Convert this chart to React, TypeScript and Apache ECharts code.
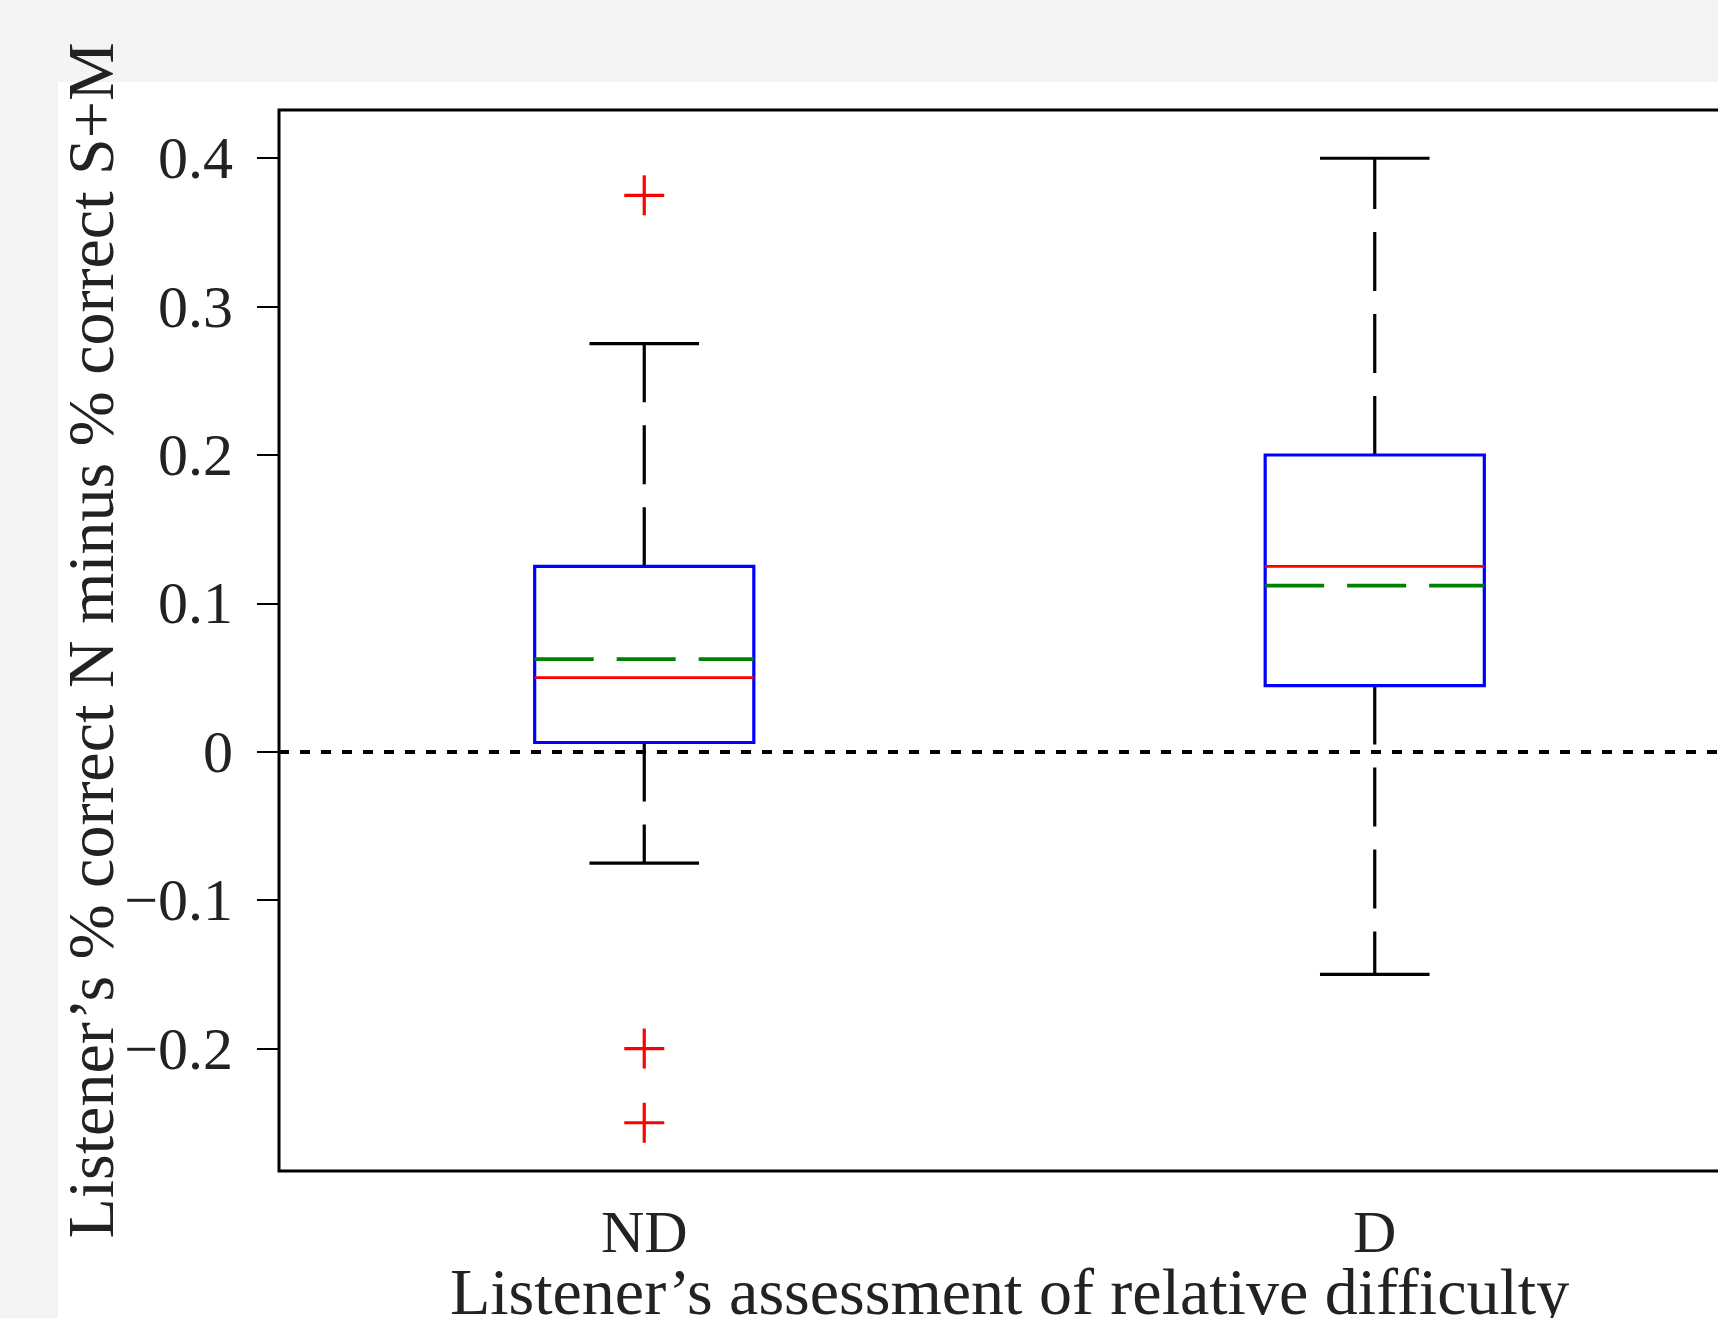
import React, { useEffect, useRef } from "react";
import * as echarts from "echarts";

const categories = ["ND", "D"];
const whiskerLow = [-0.075, -0.15];
const quartile1 = [0.00625, 0.0446];
const median = [0.05, 0.125];
const quartile3 = [0.125, 0.2];
const whiskerHigh = [0.275, 0.4];
const mean = [0.0625, 0.112];
const outlierCategory = [0, 0, 0];
const outlierValue = [0.375, -0.2, -0.25];
const yTicks = [-0.2, -0.1, 0, 0.1, 0.2, 0.3, 0.4];
const yMin = -0.2825;
const yMax = 0.4325;

const FONT = "'Liberation Serif', 'Times New Roman', serif";
const TEXT = "#222222";

export default function App() {
  const ref = useRef<HTMLDivElement>(null);
  useEffect(() => {
    if (!ref.current) return;
    const chart = echarts.init(ref.current, null, { renderer: "svg" });
    const boxData = categories.map((_, i) => [
      i + 1,
      whiskerLow[i],
      quartile1[i],
      median[i],
      quartile3[i],
      whiskerHigh[i],
      mean[i],
    ]);
    const outlierData = outlierValue.map((v, i) => [outlierCategory[i] + 1, v]);
    const dash = [59, 23];
    const LW = 3.2;

    const option: any = {
      animation: false,
      backgroundColor: "#f4f4f4",
      graphic: [
        {
          type: "rect",
          z: -100,
          silent: true,
          shape: { x: 58, y: 82, width: 1700, height: 1300 },
          style: { fill: "#ffffff" },
        },
      ],
      grid: {
        left: 279,
        top: 110,
        width: 1461,
        height: 1061,
        show: true,
        borderColor: "#000",
        borderWidth: 3,
        backgroundColor: "transparent",
        containLabel: false,
        outerBoundsMode: "none",
      },
      xAxis: {
        type: "value",
        min: 0.5,
        max: 2.5,
        axisLine: { show: false },
        axisTick: { show: false },
        splitLine: { show: false },
        axisLabel: {
          customValues: categories.map((_, i) => i + 1),
          formatter: (v: number) => categories[Math.round(v) - 1] ?? "",
          margin: 39,
          lineHeight: 44,
          fontFamily: FONT,
          fontSize: 60,
          color: TEXT,
        },
        name: "Listener\u2019s assessment of relative difficulty",
        nameLocation: "middle",
        nameGap: 95,
        nameMoveOverlap: false,
        nameTextStyle: { fontFamily: FONT, fontSize: 66, lineHeight: 50, color: TEXT },
      },
      yAxis: {
        type: "value",
        min: yMin,
        max: yMax,
        axisLine: { show: false },
        splitLine: { show: false },
        axisTick: {
          show: true,
          inside: false,
          length: 22,
          customValues: yTicks,
          lineStyle: { color: "#000", width: 2 },
        },
        axisLabel: {
          customValues: yTicks,
          formatter: (v: number) => {
            if (Math.abs(v) < 1e-9) return "0";
            const s = Math.abs(v).toFixed(1);
            return v < 0 ? "\u2212" + s : s;
          },
          margin: 46,
          fontFamily: FONT,
          fontSize: 60,
          color: TEXT,
        },
        name: "Listener\u2019s % correct N minus % correct S+M",
        nameLocation: "middle",
        nameRotate: 90,
        nameGap: 156,
        nameMoveOverlap: false,
        nameTextStyle: { fontFamily: FONT, fontSize: 66, color: TEXT },
      },
      series: [
        {
          type: "line",
          data: [],
          silent: true,
          markLine: {
            silent: true,
            symbol: "none",
            label: { show: false },
            lineStyle: { color: "#000", width: 4, type: [10, 11] },
            data: [{ yAxis: 0 }],
          },
          z: 5,
        },
        {
          type: "custom",
          data: boxData,
          z: 3,
          renderItem: (params: any, api: any) => {
            const x = api.value(0);
            const lo = api.coord([x, api.value(1)]);
            const q1 = api.coord([x, api.value(2)]);
            const md = api.coord([x, api.value(3)]);
            const q3 = api.coord([x, api.value(4)]);
            const hi = api.coord([x, api.value(5)]);
            const mn = api.coord([x, api.value(6)]);
            const half = api.size([0.15, 0])[0];
            const cap = api.size([0.075, 0])[0];
            const cx = q1[0];
            return {
              type: "group",
              children: [
                {
                  type: "line",
                  shape: { x1: cx, y1: q1[1], x2: cx, y2: lo[1] },
                  style: { stroke: "#000", lineWidth: LW, lineDash: dash },
                },
                {
                  type: "line",
                  shape: { x1: cx, y1: q3[1], x2: cx, y2: hi[1] },
                  style: { stroke: "#000", lineWidth: LW, lineDash: dash },
                },
                {
                  type: "line",
                  shape: { x1: cx - cap, y1: lo[1], x2: cx + cap, y2: lo[1] },
                  style: { stroke: "#000", lineWidth: LW },
                },
                {
                  type: "line",
                  shape: { x1: cx - cap, y1: hi[1], x2: cx + cap, y2: hi[1] },
                  style: { stroke: "#000", lineWidth: LW },
                },
                {
                  type: "rect",
                  shape: { x: cx - half, y: q3[1], width: 2 * half, height: q1[1] - q3[1] },
                  style: { fill: "none", stroke: "#0000ff", lineWidth: LW },
                },
                {
                  type: "line",
                  shape: { x1: cx - half, y1: md[1], x2: cx + half, y2: md[1] },
                  style: { stroke: "#ff0000", lineWidth: 2.8 },
                },
                {
                  type: "line",
                  shape: { x1: cx - half, y1: mn[1], x2: cx + half, y2: mn[1] },
                  style: { stroke: "#008000", lineWidth: 3.8, lineDash: dash },
                },
              ],
            };
          },
        },
        {
          type: "custom",
          data: outlierData,
          z: 4,
          renderItem: (params: any, api: any) => {
            const p = api.coord([api.value(0), api.value(1)]);
            const r = 20;
            return {
              type: "group",
              children: [
                {
                  type: "line",
                  shape: { x1: p[0] - r, y1: p[1], x2: p[0] + r, y2: p[1] },
                  style: { stroke: "#ff0000", lineWidth: LW },
                },
                {
                  type: "line",
                  shape: { x1: p[0], y1: p[1] - r, x2: p[0], y2: p[1] + r },
                  style: { stroke: "#ff0000", lineWidth: LW },
                },
              ],
            };
          },
        },
      ],
    };
    chart.setOption(option);
    return () => chart.dispose();
  }, []);
  return (
    <div
      ref={ref}
      style={{ position: "fixed", left: 0, top: 0, width: 1718, height: 1318 }}
    />
  );
}
